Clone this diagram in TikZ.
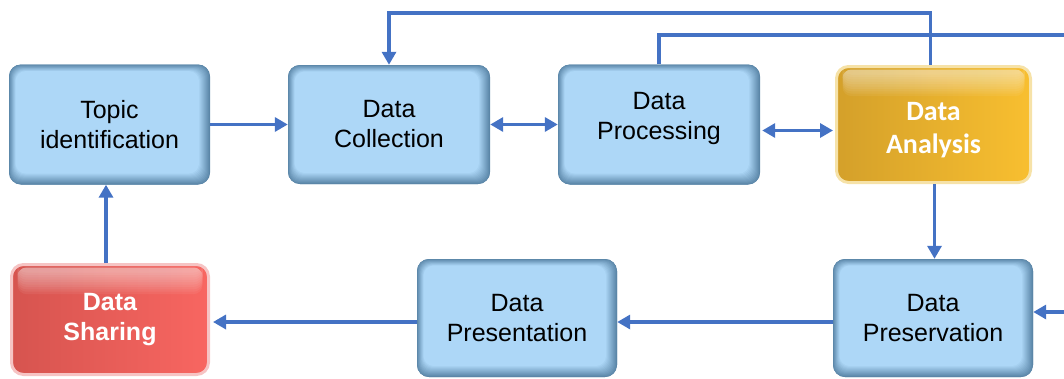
\documentclass[tikz,border=0pt]{standalone}
\usepackage{fontspec}
\setmainfont{Liberation Sans}
\newfontfamily\carlitofont{Carlito}
\usetikzlibrary{arrows.meta,calc,fadings}
\definecolor{lineblue}{HTML}{4472C4}
\definecolor{boxlight}{HTML}{AED8F8}
\definecolor{boxedge}{HTML}{5A86A8}
\definecolor{goldL}{HTML}{D4A02A}
\definecolor{goldR}{HTML}{F8BF30}
\definecolor{goldglow}{HTML}{F6E2A8}
\definecolor{redL}{HTML}{D6544F}
\definecolor{redR}{HTML}{F86661}
\definecolor{redglow}{HTML}{F6C4C4}
\tikzset{
  bluebox/.style={rounded corners=12pt, fill=boxedge, align=center,
    font=\fontsize{25}{30}\selectfont, text=black, inner sep=0pt,
    path picture={
      \foreach \i in {0,...,11} {
        \pgfmathtruncatemacro\p{\i*9}
        \fill[boxlight!\p!boxedge, rounded corners=10pt]
          ($(path picture bounding box.north west)+(0.6*\i,0.6*\i)$) rectangle
          ($(path picture bounding box.south east)+(-1.0*\i,-1.0*\i)$);
      }
    }},
  glossy/.style={rounded corners=12pt, align=center, inner sep=0pt, text=white,
    line width=3pt,
    path picture={
      \foreach \j in {0,...,9} {
        \fill[white, opacity=0.06, rounded corners=9pt]
          ($(path picture bounding box.north west)+(6,3)$) rectangle
          ($(path picture bounding box.north east)+(-6,8+2.4*\j)$);
      }
    }},
  goldbox/.style={glossy, draw=goldglow, left color=goldL, right color=goldR,
    font=\carlitofont\bfseries\fontsize{28}{33}\selectfont},
  redbox/.style={glossy, draw=redglow, left color=redL, right color=redR,
    font=\bfseries\fontsize{25}{30}\selectfont},
  arr/.style={draw=lineblue, line width=3.5pt,
    -{Triangle[length=13pt,width=14pt]}},
  darr/.style={draw=lineblue, line width=3.5pt,
    {Triangle[length=13pt,width=14pt]}-{Triangle[length=13pt,width=14pt]}},
  plain/.style={draw=lineblue, line width=3.5pt}
}
\begin{document}
\begin{tikzpicture}[x=1pt,y=-1pt]
\useasboundingbox (0,0) rectangle (1064,378);
\node[bluebox, minimum width=201pt, minimum height=120pt] (topic) at (109.5,124.5) {Topic\\identification};
\node[bluebox, minimum width=202pt, minimum height=119pt] (coll) at (389,124.5) {Data\\Collection};
\node[bluebox, minimum width=202pt, minimum height=120pt] (proc) at (659,124.5) {Data\\Processing\rule[-17pt]{0pt}{0pt}};
\node[goldbox, minimum width=194pt, minimum height=116pt] (ana) at (933.5,124.5) {\rule{0pt}{30pt}Data\\Analysis};
\node[redbox, minimum width=197pt, minimum height=110pt] (share) at (110,319.5) {Data\\Sharing};
\node[bluebox, minimum width=200pt, minimum height=118pt] (prest) at (517,318) {Data\\Presentation};
\node[bluebox, minimum width=200pt, minimum height=118pt] (pres) at (933,318) {Data\\Preservation};
\coordinate (e1) at (1066,35);
\coordinate (e2) at (1066,312);
% connectors
\draw[arr] (topic.east) -- (coll.west);
\draw[darr] (coll.east) -- (proc.west);
\draw[darr, shorten <=2pt, shorten >=2pt] ([yshift=-6pt]proc.east) -- ([yshift=-6pt]ana.west);
\draw[arr] ([xshift=-3pt]ana.north) -- ++(0,-52) -| (coll.north);
\draw[plain] (proc.north) |- (e1);
\draw[arr] (e2) -- (pres.east |- e2);
\draw[arr] ([xshift=1pt]ana.south) -- ([xshift=1pt]ana.south |- pres.north);
\draw[arr] ([yshift=-4pt]pres.west) -- ([yshift=-4pt]pres.west -| prest.east);
\draw[arr] ([yshift=-4pt]prest.west) -- ([yshift=-4pt,xshift=3pt]prest.west -| share.east);
\draw[arr] ([xshift=-4pt]share.north) -- ([xshift=-4pt]share.north |- topic.south);
\end{tikzpicture}
\end{document}
